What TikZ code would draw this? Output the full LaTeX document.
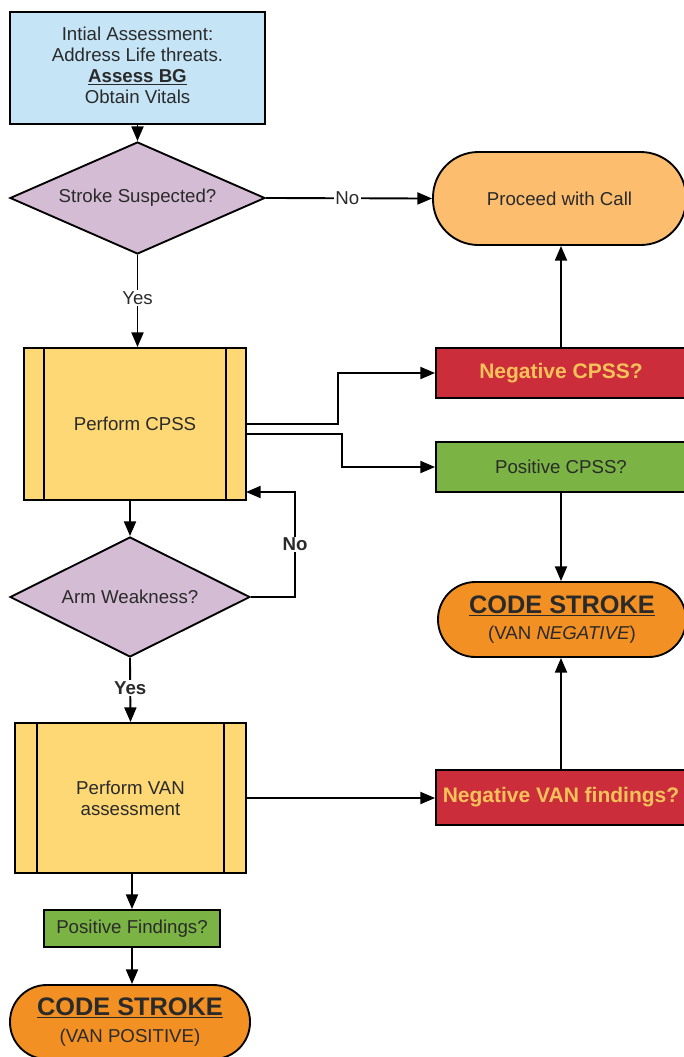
\documentclass[tikz,border=0pt]{standalone}
\usepackage{fontspec}
\setmainfont{Liberation Sans}
\usetikzlibrary{shapes.geometric,arrows.meta,calc}
\definecolor{cblue}{HTML}{C5E5F7}
\definecolor{cmauve}{HTML}{D4BCD5}
\definecolor{cyellow}{HTML}{FDD875}
\definecolor{clorange}{HTML}{FDBD6E}
\definecolor{cred}{HTML}{CB2E3A}
\definecolor{cgreen}{HTML}{7BB445}
\definecolor{corange}{HTML}{F29024}
\definecolor{cgold}{HTML}{F7C25A}
\definecolor{ctext}{HTML}{2A2A2A}
\newcommand\cstitlefont{\fontsize{19}{22}\selectfont\bfseries}
\tikzset{
  base/.style={draw=black, line width=1.4pt, text=ctext, font=\fontsize{14}{16}\selectfont, align=center, inner sep=0pt},
  boxnode/.style={base, rectangle},
  decision/.style={base, diamond, fill=cmauve},
  terminal/.style={base, rectangle, rounded corners=#1},
  redbox/.style={boxnode, fill=cred, text=cgold, font=\fontsize{15.75}{18}\selectfont\bfseries},
  greenbox/.style={boxnode, fill=cgreen},
  procbox/.style={boxnode, fill=cyellow},
  arr/.style={-{Triangle[length=11pt,width=9pt]}, line width=1.4pt},
  lbl/.style={fill=white, inner sep=1pt, text=ctext, font=\fontsize{14}{16}\selectfont}
}
\begin{document}
\begin{tikzpicture}[x=0.75pt, y=-0.75pt]
\useasboundingbox (0,0) rectangle (683,1057);

\node[boxnode, fill=cblue, minimum width=191.25pt, minimum height=84pt, font=\fontsize{14}{15.75}\selectfont] (top) at (137.5,68)
  {\raisebox{2pt}{\begin{tabular}{@{}c@{}}Intial Assessment:\\Address Life threats.\\\textbf{\underline{Assess BG}}\\Obtain Vitals\end{tabular}}};
\node[decision, aspect=2.2, minimum width=191.25pt, minimum height=84pt] (d1) at (137.5,198) {Stroke Suspected?};
\node[terminal=34pt, fill=clorange, minimum width=189.75pt, minimum height=69.75pt] (proceed) at (559.5,198.5) {Proceed with Call};
\node[procbox, minimum width=166.5pt, minimum height=114pt] (cpss) at (135,424) {Perform CPSS};
\draw[line width=1.4pt] ([xshift=15.75pt]cpss.north west) -- ([xshift=15.75pt]cpss.south west);
\draw[line width=1.4pt] ([xshift=-15.75pt]cpss.north east) -- ([xshift=-15.75pt]cpss.south east);
\node[redbox, minimum width=187.5pt, minimum height=37.5pt] (negcpss) at (561,373) {Negative CPSS?};
\node[greenbox, minimum width=187.5pt, minimum height=37.5pt] (poscpss) at (561,467) {Positive CPSS?};
\node[terminal=28pt, fill=corange, minimum width=186pt, minimum height=56.25pt, font=\fontsize{14}{20}\selectfont] (csneg) at (562,619.5)
  {{\cstitlefont\underline{CODE STROKE}}\\(VAN \textit{NEGATIVE})};
\node[decision, aspect=2, minimum width=180pt, minimum height=90pt] (arm) at (130,597) {Arm Weakness?};
\node[procbox, minimum width=173.25pt, minimum height=112.5pt] (van) at (130.5,798) {Perform VAN\\assessment};
\draw[line width=1.4pt] ([xshift=17pt]van.north west) -- ([xshift=17pt]van.south west);
\draw[line width=1.4pt] ([xshift=-17pt]van.north east) -- ([xshift=-17pt]van.south east);
\node[redbox, minimum width=187.5pt, minimum height=41.25pt] (negvan) at (561,797.5) {Negative VAN findings?};
\node[greenbox, minimum width=132pt, minimum height=27.75pt] (posfind) at (132,928.5) {Positive Findings?};
\node[terminal=27.5pt, fill=corange, minimum width=180pt, minimum height=55.5pt, font=\fontsize{14}{20}\selectfont] (cspos) at (130,1022)
  {{\cstitlefont\underline{CODE STROKE}}\\(VAN POSITIVE)};

\coordinate (n1) at (338,424);
\coordinate (p1) at (342,434);
\coordinate (armno) at (295,597);
\coordinate (cpssback) at (246,492);

\draw[arr] (top) -- (d1);
\draw[arr] (d1.east) -- node[lbl, pos=0.49] {No} (proceed.west);
\draw[arr] (d1.south) -- node[lbl, pos=0.47] {Yes} (d1.south |- cpss.north);
\draw[arr] (cpss.east) -- (n1) |- (negcpss.west);
\draw[arr] (cpss.east |- p1) -- (p1) |- (poscpss.west);
\draw[arr] (negcpss.north) -- (negcpss.north |- proceed.south);
\draw[arr] (poscpss.south) -- (poscpss.south |- csneg.north);
\draw[arr] (arm.north |- cpss.south) -- (arm.north);
\draw[arr] (arm.east) -- (armno) |- node[lbl, pos=0.25, font=\fontsize{14}{16}\selectfont\bfseries] {No} (cpssback);
\draw[arr] (arm.south) -- node[lbl, pos=0.47, font=\fontsize{14}{16}\selectfont\bfseries] {Yes} (van.north);
\draw[arr] (van.east) -- (van.east -| negvan.west);
\draw[arr] (negvan.north) -- (negvan.north |- csneg.south);
\draw[arr] (posfind.north |- van.south) -- (posfind.north);
\draw[arr] (posfind.south) -- (posfind.south |- cspos.north);
\end{tikzpicture}
\end{document}
